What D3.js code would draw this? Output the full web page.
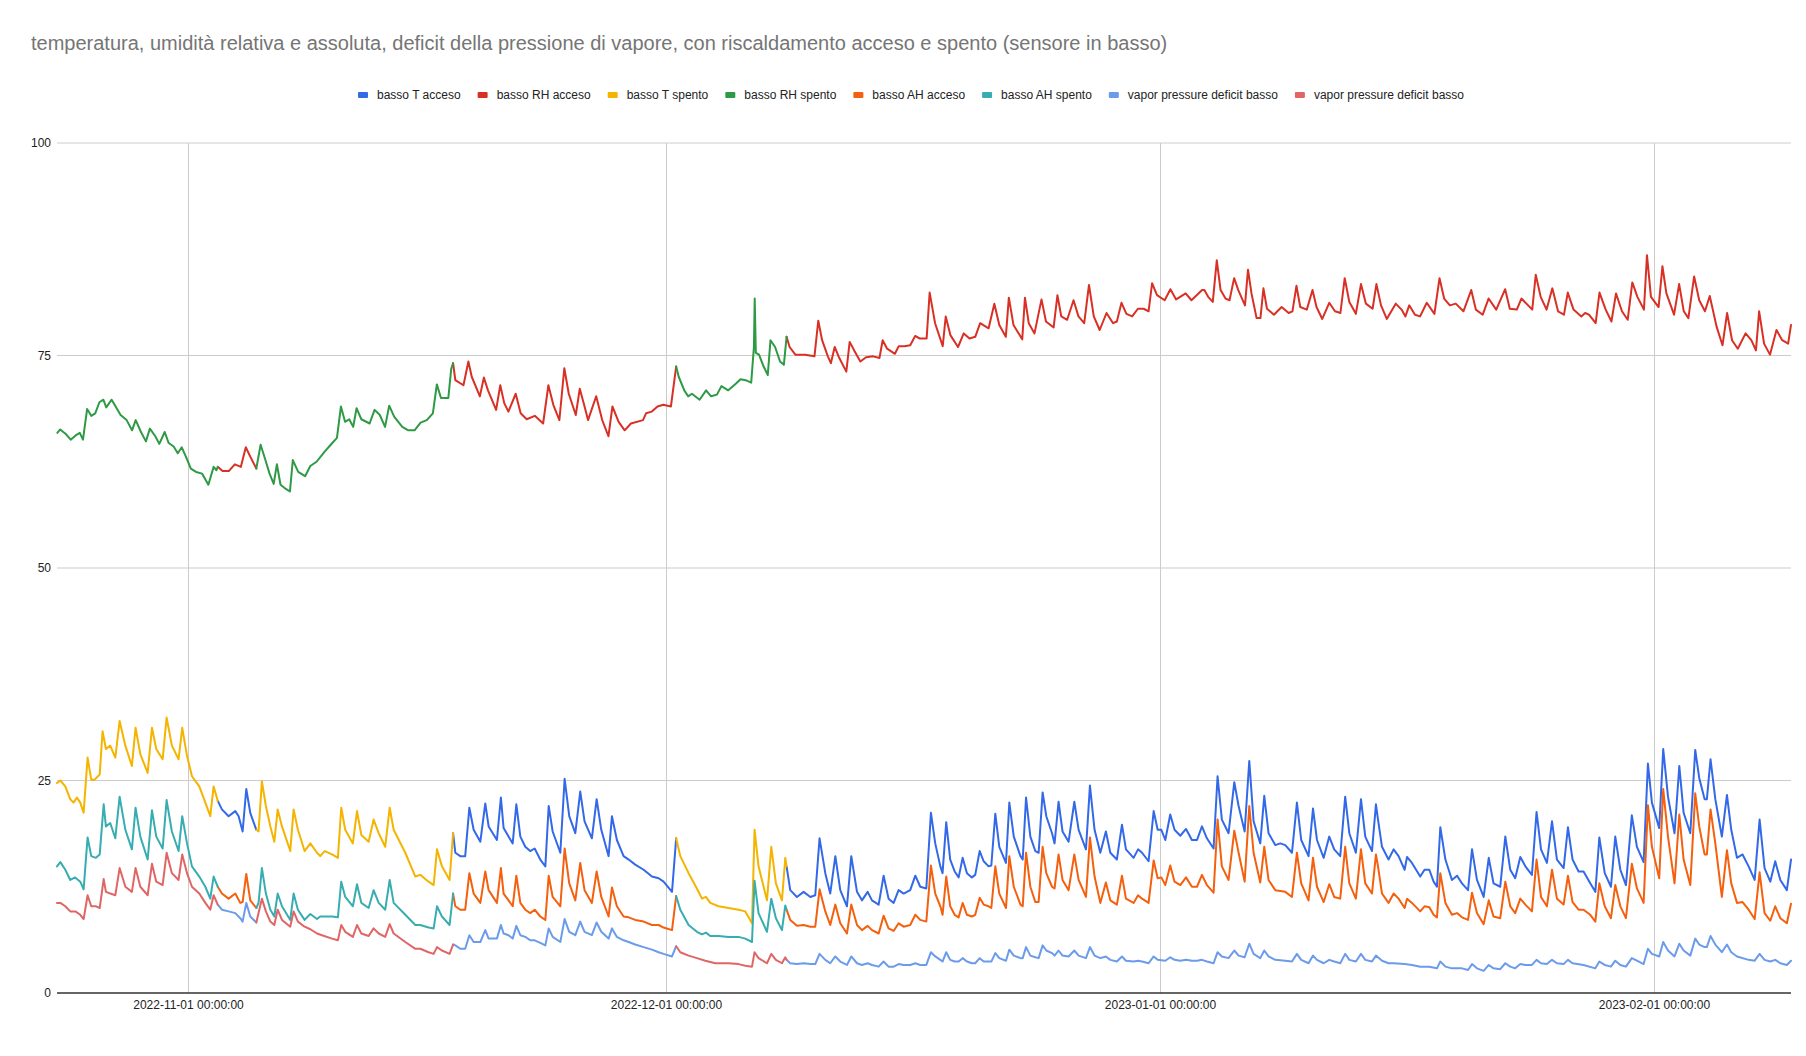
<!DOCTYPE html>
<html><head><meta charset="utf-8">
<script src="https://cdn.jsdelivr.net/npm/d3@7"></script>
<style>
body{margin:0;background:#fff;}
svg{display:block;font-family:Arial,"Liberation Sans",sans-serif;}
</style>
</head><body>
<svg id="chart" width="1806" height="1056"></svg>
<script>
// ---------- DATA ----------
const titleText = "temperatura, umidità relativa e assoluta, deficit della pressione di vapore, con riscaldamento acceso e spento (sensore in basso)";
const seriesNames = ["basso T acceso","basso RH acceso","basso T spento","basso RH spento","basso AH acceso","basso AH spento","vapor pressure deficit basso","vapor pressure deficit basso"];
const seriesColors = ["#3369E8","#D93025","#F4B400","#2E9A45","#F4600E","#38ADB1","#6B9BEB","#E06666"];
const yTicks = [0,25,50,75,100];
const xTickLabels = ["2022-11-01 00:00:00","2022-12-01 00:00:00","2023-01-01 00:00:00","2023-02-01 00:00:00"];
// day offsets from 2022-11-01 00:00 when heating was on (acceso)
const heatingOn = [[1.85,4.27],[16.62,30.62],[37.55,100.59]];

// [day offset from 2022-11-01, value]
const tempData = [[-8.24,24.7],[-8.03,25.0],[-7.72,24.3],[-7.41,22.8],[-7.20,22.4],[-6.99,23.0],[-6.78,22.4],[-6.57,21.2],[-6.32,27.7],[-6.09,25.1],[-5.88,25.1],[-5.56,25.7],[-5.38,30.8],[-5.17,28.7],[-4.90,29.1],[-4.58,27.7],[-4.31,32.0],[-3.95,29.1],[-3.54,26.7],[-3.31,31.2],[-3.01,28.1],[-2.55,25.9],[-2.28,31.2],[-2.01,28.7],[-1.61,27.5],[-1.36,32.4],[-1.03,29.1],[-0.61,27.5],[-0.38,31.2],[-0.08,27.9],[0.23,25.5],[0.69,24.3],[1.07,22.4],[1.38,20.8],[1.59,24.3],[1.85,22.6],[2.11,21.6],[2.53,20.8],[2.95,21.4],[3.16,20.8],[3.41,19.0],[3.64,24.0],[3.89,21.2],[4.27,19.2],[4.41,19.0],[4.62,24.9],[4.87,22.0],[5.15,19.6],[5.40,17.8],[5.61,21.6],[5.88,19.6],[6.40,16.7],[6.61,21.6],[6.88,19.2],[7.30,16.7],[7.66,17.6],[8.08,16.5],[8.28,16.1],[8.56,16.7],[9.02,16.3],[9.39,15.9],[9.60,21.8],[9.85,19.2],[10.33,17.6],[10.59,21.4],[10.86,18.6],[11.32,17.8],[11.63,20.4],[11.95,18.8],[12.36,17.2],[12.64,21.8],[12.89,19.2],[13.62,16.5],[14.25,13.7],[14.56,13.9],[15.08,13.1],[15.40,12.7],[15.61,16.9],[15.92,14.9],[16.40,13.3],[16.62,18.8],[16.76,16.5],[17.07,16.1],[17.38,16.1],[17.64,21.8],[17.91,19.2],[18.33,17.8],[18.64,22.3],[18.85,19.6],[19.37,18.0],[19.62,23.0],[19.79,19.4],[20.10,18.4],[20.36,17.6],[20.59,22.2],[20.84,18.4],[21.15,17.2],[21.46,16.7],[21.74,17.0],[22.09,15.7],[22.41,14.9],[22.62,22.0],[22.87,19.0],[23.35,16.5],[23.62,25.2],[23.91,20.8],[24.29,18.8],[24.60,23.7],[24.87,20.2],[25.33,18.2],[25.63,22.8],[25.92,19.2],[26.38,16.1],[26.59,20.8],[26.90,18.0],[27.32,16.1],[27.64,15.7],[28.05,15.1],[28.58,14.5],[29.10,13.7],[29.52,13.5],[29.83,13.1],[30.36,11.9],[30.62,18.2],[30.88,16.1],[31.40,14.1],[31.92,12.3],[32.24,11.1],[32.49,11.3],[32.76,10.6],[33.28,10.2],[33.91,10.0],[34.54,9.8],[34.96,9.6],[35.38,8.2],[35.54,19.2],[35.79,14.9],[36.32,10.9],[36.59,17.2],[36.88,12.9],[37.26,10.9],[37.47,15.9],[37.55,14.9],[37.78,12.1],[38.20,11.3],[38.62,11.9],[39.04,11.3],[39.35,11.5],[39.62,18.2],[39.98,14.1],[40.29,11.7],[40.61,16.1],[40.92,12.1],[41.34,10.2],[41.61,16.1],[41.97,11.9],[42.28,10.9],[42.64,11.9],[42.91,10.9],[43.33,10.4],[43.64,13.8],[43.95,11.1],[44.27,10.6],[44.58,12.1],[44.90,11.7],[45.31,12.1],[45.63,13.8],[45.94,12.5],[46.32,12.3],[46.61,21.2],[46.88,17.6],[47.20,14.9],[47.34,14.1],[47.57,20.1],[47.82,15.7],[48.10,14.3],[48.35,13.6],[48.60,15.9],[48.87,14.1],[49.18,13.6],[49.39,13.9],[49.67,16.7],[49.92,15.5],[50.23,14.9],[50.40,15.0],[50.65,21.1],[50.90,17.2],[51.32,15.3],[51.53,22.4],[51.81,18.4],[52.23,16.1],[52.37,15.7],[52.58,23.0],[52.85,18.4],[53.16,16.7],[53.37,16.5],[53.62,23.6],[53.85,20.8],[54.21,18.8],[54.37,17.6],[54.62,22.5],[54.87,19.0],[55.25,17.8],[55.61,22.5],[55.88,19.2],[56.34,16.9],[56.59,24.4],[56.88,19.2],[57.24,16.5],[57.59,19.0],[57.87,16.5],[58.28,15.7],[58.60,19.8],[58.85,16.9],[59.33,15.9],[59.61,16.9],[59.86,16.5],[60.27,15.5],[60.59,21.4],[60.84,19.2],[61.07,19.2],[61.32,18.0],[61.63,21.0],[61.90,19.2],[62.26,18.5],[62.62,19.3],[62.99,18.0],[63.31,18.0],[63.62,19.6],[63.93,18.2],[64.35,17.0],[64.60,25.5],[64.87,20.4],[65.29,18.8],[65.65,24.8],[65.92,22.0],[66.30,19.0],[66.59,27.3],[66.86,20.2],[67.28,17.6],[67.53,23.2],[67.80,18.8],[68.22,17.4],[68.54,17.6],[68.85,17.4],[69.27,16.5],[69.58,22.4],[69.85,18.0],[70.31,16.1],[70.59,21.7],[70.84,18.0],[71.26,15.9],[71.61,18.4],[71.92,16.9],[72.30,16.1],[72.61,23.1],[72.87,18.8],[73.28,16.5],[73.60,22.8],[73.87,18.4],[74.29,16.7],[74.54,22.2],[74.67,20.4],[74.92,17.2],[75.33,15.7],[75.65,16.9],[75.96,16.1],[76.34,14.5],[76.49,16.0],[76.80,15.3],[77.32,13.7],[77.59,14.5],[77.89,14.5],[78.16,13.1],[78.37,12.5],[78.58,19.5],[78.90,15.7],[79.31,13.3],[79.63,13.8],[79.94,12.9],[80.32,12.1],[80.57,16.9],[80.88,13.3],[81.30,11.3],[81.62,15.9],[81.92,12.9],[82.34,12.5],[82.66,18.4],[82.97,14.5],[83.28,13.5],[83.60,16.0],[83.92,14.9],[84.33,13.9],[84.62,21.3],[84.90,16.9],[85.27,15.3],[85.59,20.2],[85.90,15.7],[86.32,14.7],[86.59,19.5],[86.88,15.7],[87.26,14.3],[87.57,14.3],[87.99,12.9],[88.31,11.9],[88.56,18.3],[88.90,14.1],[89.29,12.5],[89.56,18.4],[89.88,14.5],[90.23,12.7],[90.60,20.9],[90.92,17.2],[91.34,15.4],[91.61,27.0],[91.86,22.4],[92.32,19.4],[92.57,28.7],[92.87,23.1],[93.28,18.8],[93.58,26.7],[93.85,21.2],[94.27,18.8],[94.58,28.6],[94.83,25.3],[95.17,22.8],[95.31,22.8],[95.54,27.5],[95.84,22.8],[96.25,18.4],[96.57,23.3],[96.84,19.2],[97.20,15.9],[97.55,16.3],[97.93,14.9],[98.31,13.3],[98.62,20.4],[98.93,14.7],[99.29,13.1],[99.60,15.5],[99.92,13.3],[100.33,12.1],[100.59,15.7]];

const rhData = [[-8.22,65.9],[-8.04,66.3],[-7.71,65.8],[-7.38,65.1],[-7.07,65.6],[-6.81,65.9],[-6.61,65.1],[-6.35,68.7],[-6.09,67.9],[-5.84,68.2],[-5.58,69.5],[-5.33,69.8],[-5.15,68.9],[-4.81,69.8],[-4.56,69.0],[-4.25,68.0],[-3.87,67.4],[-3.53,66.2],[-3.30,67.4],[-2.97,66.0],[-2.66,64.9],[-2.41,66.4],[-2.07,65.5],[-1.82,64.6],[-1.48,66.0],[-1.23,64.7],[-0.92,64.3],[-0.66,63.5],[-0.41,64.2],[-0.15,63.1],[0.16,61.7],[0.49,61.3],[0.87,61.1],[1.26,59.8],[1.59,61.9],[1.77,61.5],[1.85,61.9],[2.15,61.4],[2.54,61.4],[2.92,62.2],[3.30,61.9],[3.61,64.2],[3.89,63.1],[4.27,61.7],[4.54,64.5],[4.84,62.7],[5.10,61.1],[5.36,59.9],[5.56,62.2],[5.79,59.8],[6.05,59.4],[6.38,59.0],[6.56,62.7],[6.90,61.3],[7.33,60.8],[7.66,62.0],[8.05,62.5],[8.56,63.7],[8.94,64.5],[9.33,65.3],[9.58,69.0],[9.84,67.2],[10.10,67.5],[10.35,66.6],[10.56,68.8],[10.86,67.5],[11.38,67.0],[11.69,68.6],[12.02,68.0],[12.35,66.6],[12.61,69.1],[12.92,67.8],[13.43,66.6],[13.81,66.2],[14.20,66.2],[14.58,67.1],[14.97,67.4],[15.35,68.2],[15.60,71.6],[15.86,70.0],[16.32,70.0],[16.50,73.4],[16.62,74.1],[16.76,72.1],[17.27,71.5],[17.58,74.3],[17.79,72.5],[18.30,70.2],[18.55,72.4],[18.81,70.9],[19.32,68.6],[19.58,71.5],[19.83,69.4],[20.09,68.4],[20.55,70.5],[20.86,68.2],[21.24,67.5],[21.75,67.9],[22.27,67.0],[22.60,71.5],[22.91,69.2],[23.29,67.4],[23.60,73.5],[23.88,70.5],[24.32,68.0],[24.57,71.1],[24.83,69.3],[25.09,67.4],[25.60,70.2],[25.98,67.4],[26.37,65.5],[26.62,69.0],[27.01,67.2],[27.39,66.2],[27.78,67.0],[28.54,67.4],[28.73,68.2],[29.09,68.4],[29.45,69.0],[29.81,69.2],[30.29,69.0],[30.62,73.7],[30.78,72.5],[31.13,70.9],[31.37,70.2],[31.61,70.5],[32.09,69.8],[32.50,70.9],[32.81,70.2],[33.18,70.4],[33.46,71.4],[33.89,70.9],[34.38,71.7],[34.66,72.2],[34.98,72.1],[35.33,71.8],[35.50,76.0],[35.55,81.7],[35.62,75.3],[35.82,75.1],[36.11,73.7],[36.37,72.7],[36.54,76.8],[36.83,76.0],[37.14,74.3],[37.38,73.9],[37.55,77.2],[37.74,76.0],[38.10,75.1],[38.70,75.1],[39.30,74.9],[39.54,79.1],[39.78,76.8],[40.14,74.9],[40.33,74.1],[40.57,76.0],[40.86,74.7],[41.30,73.1],[41.51,76.6],[41.82,75.5],[42.18,74.3],[42.54,74.8],[42.98,74.9],[43.38,74.7],[43.58,76.8],[43.86,75.8],[44.35,75.2],[44.59,76.1],[44.95,76.1],[45.31,76.2],[45.62,77.3],[45.91,77.0],[46.34,77.0],[46.53,82.4],[46.87,78.8],[47.35,76.1],[47.54,79.6],[47.83,77.4],[48.31,76.0],[48.67,77.6],[49.03,77.0],[49.39,77.2],[49.70,78.8],[50.23,78.2],[50.59,81.1],[50.90,78.6],[51.31,77.2],[51.50,81.8],[51.79,78.6],[52.34,76.9],[52.51,81.8],[52.75,78.8],[53.11,77.6],[53.55,81.6],[53.83,79.0],[54.31,78.3],[54.55,82.1],[54.79,79.6],[55.16,79.2],[55.56,81.5],[55.87,79.6],[56.23,78.8],[56.53,83.3],[56.83,79.6],[57.20,78.0],[57.63,80.0],[58.04,78.8],[58.28,79.0],[58.57,81.2],[58.88,79.9],[59.24,79.6],[59.60,80.5],[59.96,80.5],[60.27,80.2],[60.49,83.5],[60.80,82.1],[61.28,81.5],[61.64,82.8],[62.00,81.6],[62.60,82.3],[62.96,81.5],[63.63,82.7],[63.77,82.7],[64.01,81.9],[64.30,81.3],[64.55,86.2],[64.79,82.7],[65.10,81.7],[65.35,81.5],[65.64,84.1],[65.90,82.7],[66.32,80.9],[66.51,85.1],[66.73,82.3],[67.05,79.4],[67.29,79.4],[67.48,82.9],[67.70,80.5],[68.14,79.8],[68.62,80.7],[69.06,80.0],[69.30,80.2],[69.55,83.2],[69.79,80.7],[70.20,80.4],[70.56,82.7],[70.81,80.7],[71.17,79.3],[71.61,81.2],[71.97,80.2],[72.31,80.0],[72.58,84.1],[72.87,81.3],[73.28,79.9],[73.60,83.4],[73.91,81.1],[74.33,80.5],[74.57,83.4],[74.86,80.9],[75.22,79.3],[75.78,81.1],[76.15,80.4],[76.39,79.6],[76.63,80.9],[76.99,79.8],[77.31,79.6],[77.73,81.2],[78.21,79.9],[78.53,84.1],[78.82,81.7],[79.18,80.9],[79.55,81.1],[80.03,80.2],[80.52,82.7],[80.81,80.4],[81.24,79.8],[81.61,81.7],[82.09,80.4],[82.65,82.8],[82.94,80.5],[83.38,80.4],[83.67,81.7],[84.35,80.4],[84.57,84.5],[84.88,81.9],[85.25,80.4],[85.61,82.9],[85.97,80.2],[86.34,79.8],[86.58,82.4],[86.94,80.4],[87.43,79.6],[87.67,80.0],[87.91,79.8],[88.33,78.8],[88.57,82.4],[88.96,80.4],[89.32,79.0],[89.61,82.3],[89.98,80.2],[90.34,79.2],[90.63,83.6],[90.95,81.9],[91.36,80.4],[91.55,86.8],[91.80,81.9],[92.28,80.7],[92.52,85.5],[92.77,82.3],[93.25,79.8],[93.57,83.4],[93.86,80.2],[94.15,79.4],[94.51,84.3],[94.83,81.5],[95.19,80.2],[95.49,82.0],[95.92,78.4],[96.29,76.2],[96.58,80.0],[96.89,76.8],[97.25,75.8],[97.74,77.6],[98.10,76.8],[98.39,75.6],[98.59,80.2],[98.90,76.4],[99.27,75.1],[99.68,78.0],[100.04,76.8],[100.41,76.4],[100.59,78.6]];

const ahData = [[-8.24,14.9],[-8.03,15.4],[-7.72,14.5],[-7.41,13.3],[-7.10,13.6],[-6.78,13.1],[-6.57,12.2],[-6.32,18.3],[-6.09,16.1],[-5.80,15.9],[-5.56,16.3],[-5.31,22.2],[-5.17,19.6],[-4.90,20.0],[-4.58,18.2],[-4.31,23.1],[-3.95,19.2],[-3.54,16.9],[-3.31,21.8],[-3.01,18.4],[-2.55,15.7],[-2.28,21.5],[-2.01,18.4],[-1.61,17.0],[-1.36,22.7],[-1.03,19.0],[-0.61,16.7],[-0.38,20.8],[-0.08,17.6],[0.23,14.9],[0.69,13.7],[1.07,12.5],[1.38,11.1],[1.59,13.7],[1.85,12.5],[2.11,11.7],[2.53,11.1],[2.95,11.7],[3.26,10.6],[3.41,10.7],[3.64,14.0],[3.89,10.9],[4.27,10.0],[4.41,10.6],[4.62,14.7],[4.87,11.7],[5.15,9.8],[5.40,9.0],[5.61,11.7],[5.88,10.2],[6.40,8.6],[6.61,11.7],[6.88,9.8],[7.30,8.6],[7.66,9.3],[8.08,8.7],[8.28,9.0],[9.02,9.0],[9.39,8.9],[9.60,13.1],[9.85,11.3],[10.33,10.2],[10.59,12.8],[10.86,10.6],[11.32,10.0],[11.63,12.1],[11.95,10.6],[12.36,9.8],[12.64,13.3],[12.89,10.6],[13.62,9.2],[14.25,8.0],[14.56,8.0],[15.08,7.7],[15.40,7.6],[15.61,10.2],[15.92,9.0],[16.40,8.0],[16.62,11.7],[16.76,10.2],[17.07,9.8],[17.38,9.8],[17.64,14.1],[17.91,11.7],[18.33,10.6],[18.64,14.3],[18.85,12.1],[19.37,10.6],[19.62,14.7],[19.79,11.7],[20.10,10.9],[20.36,10.2],[20.59,13.8],[20.84,10.6],[21.15,9.8],[21.46,9.4],[21.74,9.8],[22.09,9.0],[22.41,8.6],[22.62,13.8],[22.87,11.3],[23.35,10.2],[23.62,17.0],[23.91,12.9],[24.29,10.9],[24.60,15.3],[24.87,12.1],[25.33,10.6],[25.63,14.3],[25.92,11.3],[26.38,9.0],[26.59,12.4],[26.90,10.2],[27.32,9.0],[27.64,8.9],[28.05,8.6],[28.58,8.4],[29.10,8.0],[29.52,8.0],[29.83,7.7],[30.36,7.4],[30.62,11.4],[30.88,9.8],[31.40,8.0],[31.92,7.2],[32.24,6.9],[32.49,7.1],[32.76,6.7],[33.28,6.7],[33.91,6.6],[34.54,6.6],[34.96,6.4],[35.38,6.0],[35.54,13.2],[35.79,9.4],[36.32,7.2],[36.59,11.1],[36.88,8.8],[37.26,7.4],[37.47,10.3],[37.55,9.8],[37.78,8.6],[38.20,7.9],[38.62,8.0],[39.04,7.8],[39.35,7.8],[39.62,12.2],[39.98,9.6],[40.29,8.0],[40.61,10.4],[40.92,8.2],[41.34,7.0],[41.61,10.4],[41.97,8.0],[42.28,7.4],[42.64,7.9],[42.91,7.4],[43.33,7.0],[43.64,9.1],[43.95,7.6],[44.27,7.3],[44.58,8.2],[44.90,7.8],[45.31,8.0],[45.63,9.2],[45.94,8.6],[46.32,8.4],[46.61,15.0],[46.88,11.7],[47.20,10.2],[47.34,9.2],[47.57,13.7],[47.82,10.2],[48.10,9.2],[48.35,8.9],[48.60,10.6],[48.87,9.2],[49.18,9.0],[49.39,9.2],[49.67,11.2],[49.92,10.4],[50.23,10.2],[50.40,10.0],[50.65,14.9],[50.90,11.7],[51.32,10.0],[51.53,16.1],[51.81,12.5],[52.23,10.4],[52.37,10.2],[52.58,16.5],[52.85,12.5],[53.16,10.7],[53.37,10.7],[53.62,17.2],[53.85,14.1],[54.21,12.5],[54.37,12.3],[54.62,16.3],[54.87,13.3],[55.25,12.1],[55.61,16.3],[55.88,13.3],[56.34,11.3],[56.59,18.3],[56.88,13.7],[57.24,10.6],[57.59,13.0],[57.87,10.9],[58.28,10.4],[58.60,13.8],[58.85,11.1],[59.33,10.6],[59.61,11.5],[59.86,11.1],[60.27,10.6],[60.59,15.6],[60.84,13.5],[61.07,13.6],[61.32,12.7],[61.63,15.0],[61.90,13.1],[62.26,12.7],[62.62,13.6],[62.99,12.5],[63.31,12.5],[63.62,13.9],[63.93,12.7],[64.35,11.8],[64.60,20.4],[64.87,14.9],[65.29,13.3],[65.65,19.1],[65.92,16.5],[66.30,13.1],[66.59,22.0],[66.86,16.5],[67.28,13.0],[67.53,17.2],[67.80,13.3],[68.22,12.1],[68.54,12.0],[68.85,11.9],[69.27,11.3],[69.58,16.5],[69.85,12.9],[70.31,10.9],[70.59,15.9],[70.84,12.5],[71.26,10.7],[71.61,12.8],[71.92,11.3],[72.30,11.1],[72.61,17.2],[72.87,12.9],[73.28,11.1],[73.60,16.9],[73.87,12.9],[74.29,11.7],[74.54,16.3],[74.67,14.9],[74.92,11.7],[75.33,10.6],[75.65,11.7],[75.96,11.1],[76.34,10.0],[76.49,11.1],[76.80,10.6],[77.32,9.6],[77.59,10.2],[77.89,10.1],[78.16,9.2],[78.37,8.9],[78.58,14.1],[78.90,10.6],[79.31,9.2],[79.63,9.4],[79.94,8.9],[80.32,8.6],[80.57,11.8],[80.88,9.4],[81.30,8.1],[81.62,10.9],[81.92,9.0],[82.34,8.8],[82.66,13.1],[82.97,10.2],[83.28,9.4],[83.60,11.1],[83.92,10.4],[84.33,9.6],[84.62,15.7],[84.90,11.3],[85.27,10.2],[85.59,14.5],[85.90,11.1],[86.32,10.4],[86.59,13.8],[86.88,10.7],[87.26,9.8],[87.57,9.8],[87.99,9.2],[88.31,8.4],[88.56,12.9],[88.90,10.2],[89.29,8.8],[89.56,12.7],[89.88,10.2],[90.23,8.8],[90.60,15.2],[90.92,12.3],[91.34,10.6],[91.61,22.1],[91.86,17.2],[92.32,13.5],[92.57,24.0],[92.87,18.4],[93.28,12.9],[93.58,21.0],[93.85,15.7],[94.27,12.7],[94.58,23.5],[94.83,19.6],[95.17,16.3],[95.31,16.3],[95.54,21.6],[95.84,17.6],[96.25,11.3],[96.57,16.8],[96.84,12.9],[97.20,10.6],[97.55,10.7],[97.93,9.8],[98.31,8.7],[98.62,14.2],[98.93,9.4],[99.29,8.5],[99.60,10.2],[99.92,8.8],[100.33,8.2],[100.59,10.5]];

const vpdData = [[-8.24,10.6],[-8.03,10.6],[-7.72,10.2],[-7.41,9.6],[-7.09,9.6],[-6.78,9.2],[-6.57,8.7],[-6.32,11.5],[-6.09,10.2],[-5.79,10.2],[-5.56,10.0],[-5.31,13.4],[-5.17,11.9],[-4.90,11.7],[-4.58,11.5],[-4.31,14.7],[-3.95,12.5],[-3.54,11.9],[-3.31,14.7],[-3.01,12.5],[-2.55,11.5],[-2.28,15.2],[-2.01,13.1],[-1.61,12.7],[-1.36,16.5],[-1.03,14.1],[-0.61,13.3],[-0.38,16.3],[-0.08,14.1],[0.23,12.5],[0.69,11.7],[1.07,10.6],[1.38,9.8],[1.59,11.5],[1.85,10.4],[2.11,9.8],[2.53,9.6],[2.95,9.4],[3.26,8.8],[3.41,8.4],[3.64,10.6],[3.89,9.0],[4.27,8.3],[4.41,9.4],[4.62,11.1],[4.87,9.6],[5.15,8.4],[5.40,8.0],[5.61,9.8],[5.88,8.6],[6.40,7.8],[6.61,9.6],[6.88,8.4],[7.30,7.8],[7.66,7.5],[8.08,7.0],[8.39,6.8],[9.02,6.4],[9.39,6.2],[9.60,8.0],[9.85,7.2],[10.33,6.6],[10.59,8.0],[10.86,7.0],[11.32,6.7],[11.63,7.6],[11.95,7.0],[12.36,6.6],[12.64,8.1],[12.89,7.0],[13.62,6.0],[14.25,5.2],[14.56,5.2],[15.08,4.8],[15.40,4.6],[15.61,5.4],[15.92,5.0],[16.40,4.6],[16.62,5.7],[16.76,5.6],[17.07,5.2],[17.38,5.2],[17.64,6.8],[17.91,6.0],[18.33,6.0],[18.64,7.4],[18.85,6.4],[19.37,6.4],[19.62,8.0],[19.79,7.0],[20.10,6.8],[20.36,6.4],[20.59,7.9],[20.84,6.8],[21.15,6.6],[21.46,6.2],[21.74,6.2],[22.09,5.9],[22.41,5.6],[22.62,7.6],[22.87,6.6],[23.35,6.0],[23.62,8.7],[23.91,7.2],[24.29,6.8],[24.60,8.4],[24.87,7.2],[25.33,6.8],[25.63,8.3],[25.92,7.2],[26.38,6.4],[26.59,7.6],[26.90,6.6],[27.32,6.2],[27.64,6.0],[28.05,5.7],[28.58,5.4],[29.10,5.1],[29.52,4.8],[29.83,4.6],[30.36,4.3],[30.62,5.5],[30.88,4.8],[31.40,4.4],[31.92,4.1],[32.45,3.8],[33.08,3.5],[33.91,3.5],[34.54,3.4],[34.96,3.2],[35.38,3.1],[35.54,4.8],[35.79,4.1],[36.32,3.5],[36.59,4.6],[36.88,3.9],[37.26,3.5],[37.47,4.2],[37.55,3.9],[37.78,3.5],[38.20,3.4],[38.62,3.5],[39.04,3.4],[39.35,3.4],[39.62,4.6],[39.98,3.9],[40.29,3.5],[40.61,4.3],[40.92,3.7],[41.34,3.3],[41.61,4.3],[41.97,3.5],[42.28,3.3],[42.64,3.5],[42.91,3.3],[43.33,3.1],[43.64,3.7],[43.95,3.1],[44.27,3.1],[44.58,3.4],[44.90,3.3],[45.31,3.3],[45.63,3.5],[45.94,3.3],[46.32,3.3],[46.61,4.8],[46.88,4.3],[47.20,3.9],[47.34,3.7],[47.57,4.8],[47.82,3.9],[48.10,3.7],[48.35,3.7],[48.60,4.1],[48.87,3.7],[49.18,3.5],[49.39,3.5],[49.67,4.1],[49.92,3.7],[50.40,3.7],[50.65,4.7],[50.90,4.1],[51.32,3.8],[51.53,5.1],[51.81,4.4],[52.23,4.1],[52.37,4.1],[52.58,5.4],[52.85,4.4],[53.16,4.2],[53.37,4.1],[53.62,5.6],[53.85,5.0],[54.21,4.7],[54.37,4.4],[54.62,5.0],[54.87,4.4],[55.25,4.3],[55.61,5.0],[55.88,4.4],[56.34,4.1],[56.59,5.4],[56.88,4.4],[57.24,4.1],[57.59,4.3],[57.87,3.9],[58.28,3.7],[58.60,4.3],[58.85,3.8],[59.33,3.7],[59.61,3.8],[59.86,3.7],[60.27,3.5],[60.59,4.3],[60.84,3.9],[61.32,3.8],[61.63,4.2],[61.90,3.9],[62.26,3.8],[62.62,3.9],[62.99,3.8],[63.31,3.8],[63.62,3.9],[63.93,3.7],[64.35,3.5],[64.60,4.8],[64.87,4.3],[65.29,4.1],[65.65,5.0],[65.92,4.4],[66.30,4.2],[66.59,5.8],[66.86,4.6],[67.28,4.1],[67.53,5.0],[67.80,4.3],[68.22,3.9],[68.85,3.8],[69.27,3.7],[69.58,4.6],[69.85,3.9],[70.31,3.5],[70.59,4.4],[70.84,3.9],[71.26,3.5],[71.61,3.9],[71.92,3.7],[72.30,3.5],[72.61,4.6],[72.87,3.9],[73.28,3.7],[73.60,4.6],[73.87,3.9],[74.29,3.7],[74.54,4.4],[74.92,3.8],[75.33,3.5],[75.65,3.5],[76.34,3.4],[76.80,3.3],[77.32,3.1],[77.89,3.1],[78.37,2.9],[78.58,3.7],[78.90,3.1],[79.31,2.9],[79.94,2.9],[80.32,2.7],[80.57,3.4],[80.88,2.9],[81.30,2.6],[81.62,3.3],[81.92,2.9],[82.34,2.8],[82.66,3.5],[82.97,3.1],[83.28,2.9],[83.60,3.4],[83.92,3.3],[84.33,3.3],[84.62,3.9],[84.90,3.5],[85.27,3.4],[85.59,3.9],[85.90,3.5],[86.32,3.4],[86.59,3.9],[86.88,3.5],[87.57,3.3],[88.31,2.9],[88.56,3.7],[88.90,3.3],[89.29,3.1],[89.56,3.8],[89.88,3.3],[90.23,3.1],[90.60,4.1],[90.92,3.8],[91.34,3.4],[91.61,5.2],[91.86,4.6],[92.32,4.3],[92.57,6.0],[92.87,5.0],[93.28,4.3],[93.58,5.8],[93.85,5.0],[94.27,4.4],[94.58,6.4],[94.83,5.7],[95.17,5.4],[95.31,5.4],[95.54,6.7],[95.84,5.7],[96.25,4.8],[96.57,5.7],[96.84,4.8],[97.20,4.3],[97.93,3.9],[98.31,3.8],[98.62,4.6],[98.93,3.9],[99.29,3.7],[99.60,3.9],[99.92,3.5],[100.33,3.3],[100.59,3.8]];

// ---------- CHART ----------
const svg = d3.select("#chart");
const W = 1806, H = 1056;
const margin = {left:57, right:15, top:143, bottom:63};
const DAY = 86400000;
const base = Date.UTC(2022,10,1);
const toDate = d => new Date(base + d*DAY);

const allDays = [tempData, rhData, ahData, vpdData].flat().map(p => p[0]);
const x = d3.scaleUtc()
  .domain(d3.extent(allDays).map(toDate))
  .range([margin.left, W - margin.right]);
const y = d3.scaleLinear().domain([0,100]).range([H - margin.bottom, margin.top]);

// intervals
const lastDay = d3.max(allDays), firstDay = d3.min(allDays);
const onIntervals = heatingOn;
const offIntervals = [];
let prev = firstDay - 1;
heatingOn.forEach(([a,b]) => { if (a > prev) offIntervals.push([prev, a]); prev = b; });
if (prev < lastDay) offIntervals.push([prev, lastDay + 1]);

function segments(data, intervals) {
  return intervals.map(([a,b]) => data.filter(p => p[0] >= a - 1e-6 && p[0] <= b + 1e-6))
                  .filter(s => s.length > 1);
}

const series = [
  {data: tempData, iv: onIntervals},
  {data: rhData,   iv: onIntervals},
  {data: tempData, iv: offIntervals},
  {data: rhData,   iv: offIntervals},
  {data: ahData,   iv: onIntervals},
  {data: ahData,   iv: offIntervals},
  {data: vpdData,  iv: onIntervals},
  {data: vpdData,  iv: offIntervals}
].map((s,i) => ({name: seriesNames[i], color: seriesColors[i], segs: segments(s.data, s.iv)}));

// title
svg.append("text").attr("x", 31).attr("y", 50)
  .attr("font-size", 20).attr("fill", "#757575").text(titleText);

// horizontal grid + y labels
const gy = svg.append("g");
yTicks.forEach(t => {
  if (t !== 0) {
    gy.append("line").attr("x1", margin.left).attr("x2", W - margin.right)
      .attr("y1", y(t)).attr("y2", y(t)).attr("stroke", "#cccccc").attr("stroke-width", 1);
  }
  gy.append("text").attr("x", 51).attr("y", y(t)).attr("dy", "0.35em")
    .attr("text-anchor", "end").attr("font-size", 12).attr("fill", "#222").text(t);
});

// vertical grid + x labels
const gx = svg.append("g");
xTickLabels.forEach(lbl => {
  const d = new Date(lbl.replace(" ", "T") + "Z");
  const px = Math.round(x(d)) + 0.5;
  gx.append("line").attr("x1", px).attr("x2", px).attr("y1", margin.top).attr("y2", y(0))
    .attr("stroke", "#cccccc").attr("stroke-width", 1);
  gx.append("text").attr("x", px).attr("y", y(0) + 7).attr("dy", "0.71em")
    .attr("text-anchor", "middle").attr("font-size", 12).attr("fill", "#222").text(lbl);
});

// lines
const line = d3.line().x(p => x(toDate(p[0]))).y(p => y(p[1]));
const gl = svg.append("g").attr("fill", "none").attr("stroke-width", 2)
  .attr("stroke-linejoin", "round").attr("stroke-linecap", "round");
series.forEach(s => {
  s.segs.forEach(seg => {
    gl.append("path").attr("d", line(seg)).attr("stroke", s.color);
  });
});

// baseline
svg.append("line").attr("x1", margin.left).attr("x2", W - margin.right)
  .attr("y1", y(0)).attr("y2", y(0)).attr("stroke", "#333").attr("stroke-width", 1.5);

// legend
const lg = svg.append("g").attr("font-size", 12).attr("fill", "#222");
const items = [];
let cx = 0;
series.forEach(s => {
  const g = lg.append("g");
  g.append("rect").attr("x", 0).attr("y", -3).attr("width", 10).attr("height", 6)
    .attr("rx", 1).attr("fill", s.color);
  const t = g.append("text").attr("x", 19).attr("y", 0).attr("dy", "0.35em").text(s.name);
  const w = 19 + t.node().getComputedTextLength();
  items.push({g, x: cx});
  cx += w + 17;
});
const totalW = cx - 17;
const startX = 911 - totalW / 2;
items.forEach(it => it.g.attr("transform", `translate(${startX + it.x},95)`));
</script>
</body></html>
